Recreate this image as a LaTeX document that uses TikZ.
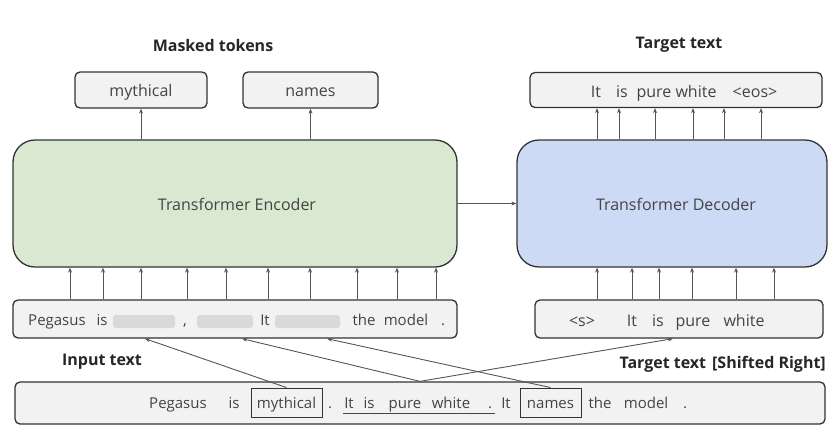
\documentclass[tikz,border=0pt]{standalone}
\usepackage{fontspec}
\setmainfont{Open Sans}
\usetikzlibrary{arrows.meta}
\definecolor{encfill}{HTML}{D8E8D1}
\definecolor{decfill}{HTML}{CCDAF5}
\definecolor{tokfill}{HTML}{F2F2F2}
\definecolor{boxline}{HTML}{333333}
\definecolor{arrline}{HTML}{555555}
\definecolor{txt}{HTML}{444444}
\definecolor{maskgray}{HTML}{D9D9D9}
\begin{document}
\begin{tikzpicture}[x=1pt,y=-1pt,
  tokbox/.style={draw=boxline, line width=1.3pt, rounded corners=5pt, fill=tokfill, inner sep=0pt},
  bigbox/.style={draw=boxline, line width=1.3pt, rounded corners=22pt, inner sep=0pt},
  arr/.style={-{Stealth[length=5pt,width=4pt]}, draw=arrline, line width=0.9pt},
  wd/.style={inner sep=0pt, font=\fontsize{15}{17}\selectfont, text=txt, text height=12.5pt, text depth=1.5pt},
  tokw/.style={inner sep=0pt, font=\fontsize{16}{18}\selectfont, text=txt, text height=13.5pt, text depth=1.5pt},
  ttl/.style={inner sep=0pt, font=\bfseries\fontsize{16}{18}\selectfont, text=black!85},
  inbox/.style={draw=boxline, line width=0.9pt, inner sep=0pt, minimum height=29pt},
  maskbar/.style={fill=maskgray, rounded corners=3pt, draw=none}
]
\useasboundingbox (0,0) rectangle (829,431);

% titles
\node[ttl] (tmask) at (213,45) {Masked tokens};
\node[ttl] (ttgt) at (679,45) {Target text};
\node[ttl] (tin) at (102,362) {Input text};
\node[ttl, anchor=east] (tshift) at (826,364) {Target text\hspace{6pt}[Shifted Right]};

% top token boxes
\node[tokbox, minimum width=132pt, minimum height=36pt] (mythtok) at (141,90) {};
\node[tokw] (mythtxt) at (141,90) {mythical};
\node[tokbox, minimum width=135pt, minimum height=36pt] (namestok) at (310.5,90) {};
\node[tokw] (namestxt) at (310.5,90) {names};
\node[tokbox, minimum width=292pt, minimum height=35pt] (tgt) at (676,90) {};
\node[tokw] (g1) at (596,91) {It};
\node[tokw] (g2) at (622,91) {is};
\node[tokw] (g3) at (654,91) {pure};
\node[tokw] (g4) at (696,91) {white};
\node[tokw] (g5) at (755,91) {<eos>};

% encoder / decoder
\node[bigbox, fill=encfill, minimum width=444pt, minimum height=127pt] (enc) at (235,203.5) {};
\node[tokw] (enctxt) at (237,204) {Transformer Encoder};
\node[bigbox, fill=decfill, minimum width=310pt, minimum height=127pt] (dec) at (672,203.5) {};
\node[tokw] (dectxt) at (676,204) {Transformer Decoder};

% input box (encoder)
\node[tokbox, minimum width=444pt, minimum height=38pt] (inp) at (235,319) {};
\node[wd] (p1) at (57,320) {Pegasus};
\node[wd] (p1b) at (102,320) {is};
\fill[maskbar] (113,315) rectangle (175,328);
\node[wd] (p2) at (185,320) {,};
\fill[maskbar] (197,315) rectangle (253,328);
\node[wd] (p3) at (265,320) {It};
\fill[maskbar] (275,315) rectangle (340,328);
\node[wd] (p4) at (364,320) {the};
\node[wd] (p4b) at (406,320) {model};
\node[wd] (p5) at (443,320) {.};

% input box (decoder)
\node[tokbox, minimum width=288pt, minimum height=38pt] (dinp) at (679,319) {};
\node[tokw] (d1) at (582,320) {<s>};
\node[tokw] (d2) at (632,320) {It};
\node[tokw] (d3) at (658,320) {is};
\node[tokw] (d4) at (693,320) {pure};
\node[tokw] (d5) at (744,320) {white};

% bottom box
\node[tokbox, minimum width=810pt, minimum height=42pt] (bot) at (420,403) {};
\node[wd] (b1) at (178,403) {Pegasus};
\node[wd] (b2) at (234,403) {is};
\node[inbox, wd, minimum width=71pt] (mb) at (286.5,402.5) {mythical};
\node[wd] (b3) at (330,403) {.};
\node[wd] (w1) at (349,403) {It};
\node[wd] (w2) at (369,403) {is};
\node[wd] (w3) at (405,403) {pure};
\node[wd] (w4) at (451,403) {white};
\node[wd] (w5) at (490,403) {.};
\coordinate (u1) at (343,413);
\coordinate (u2) at (495,413);
\draw[line width=0.9pt, draw=txt] (u1) -- (u2);
\node[wd] (b5) at (506,403) {It};
\node[inbox, wd, minimum width=61pt] (nb) at (550.5,402.5) {names};
\node[wd] (b6) at (600,403) {the};
\node[wd] (b6b) at (646,403) {model};
\node[wd] (b7) at (685,403) {.};

% encoder -> token arrows
\draw[arr] (mythtok.south |- enc.north) -- (mythtok.south);
\draw[arr] (namestok.south |- enc.north) -- (namestok.south);
\draw[arr] (enc.east) -- (dec.west);

% decoder -> target arrows
\foreach \x [count=\i] in {597,619,655,693,724,761}{
  \coordinate (to\i) at (\x,0);
  \draw[arr] (dec.north -| to\i) -- (tgt.south -| to\i);
}
% input -> encoder arrows
\foreach \x [count=\i] in {70,103,141,187,226,268,310,357,397,436}{
  \coordinate (ei\i) at (\x,0);
  \draw[arr] (inp.north -| ei\i) -- (enc.south -| ei\i);
}
% decoder input -> decoder arrows
\foreach \x [count=\i] in {597,632,659,692,736,774}{
  \coordinate (di\i) at (\x,0);
  \draw[arr] (dinp.north -| di\i) -- (dec.south -| di\i);
}

% bottom cross lines
\coordinate (c1) at (145,0);
\coordinate (c2) at (242,0);
\coordinate (c3) at (673,0);
\coordinate (c4) at (327,0);
\draw[arr] (mb.north) -- (inp.south -| c1);
\draw[arr] (bot.north) -- (inp.south -| c2);
\draw[arr] (bot.north) -- (dinp.south -| c3);
\draw[arr] (nb.north) -- (inp.south -| c4);
\end{tikzpicture}
\end{document}
